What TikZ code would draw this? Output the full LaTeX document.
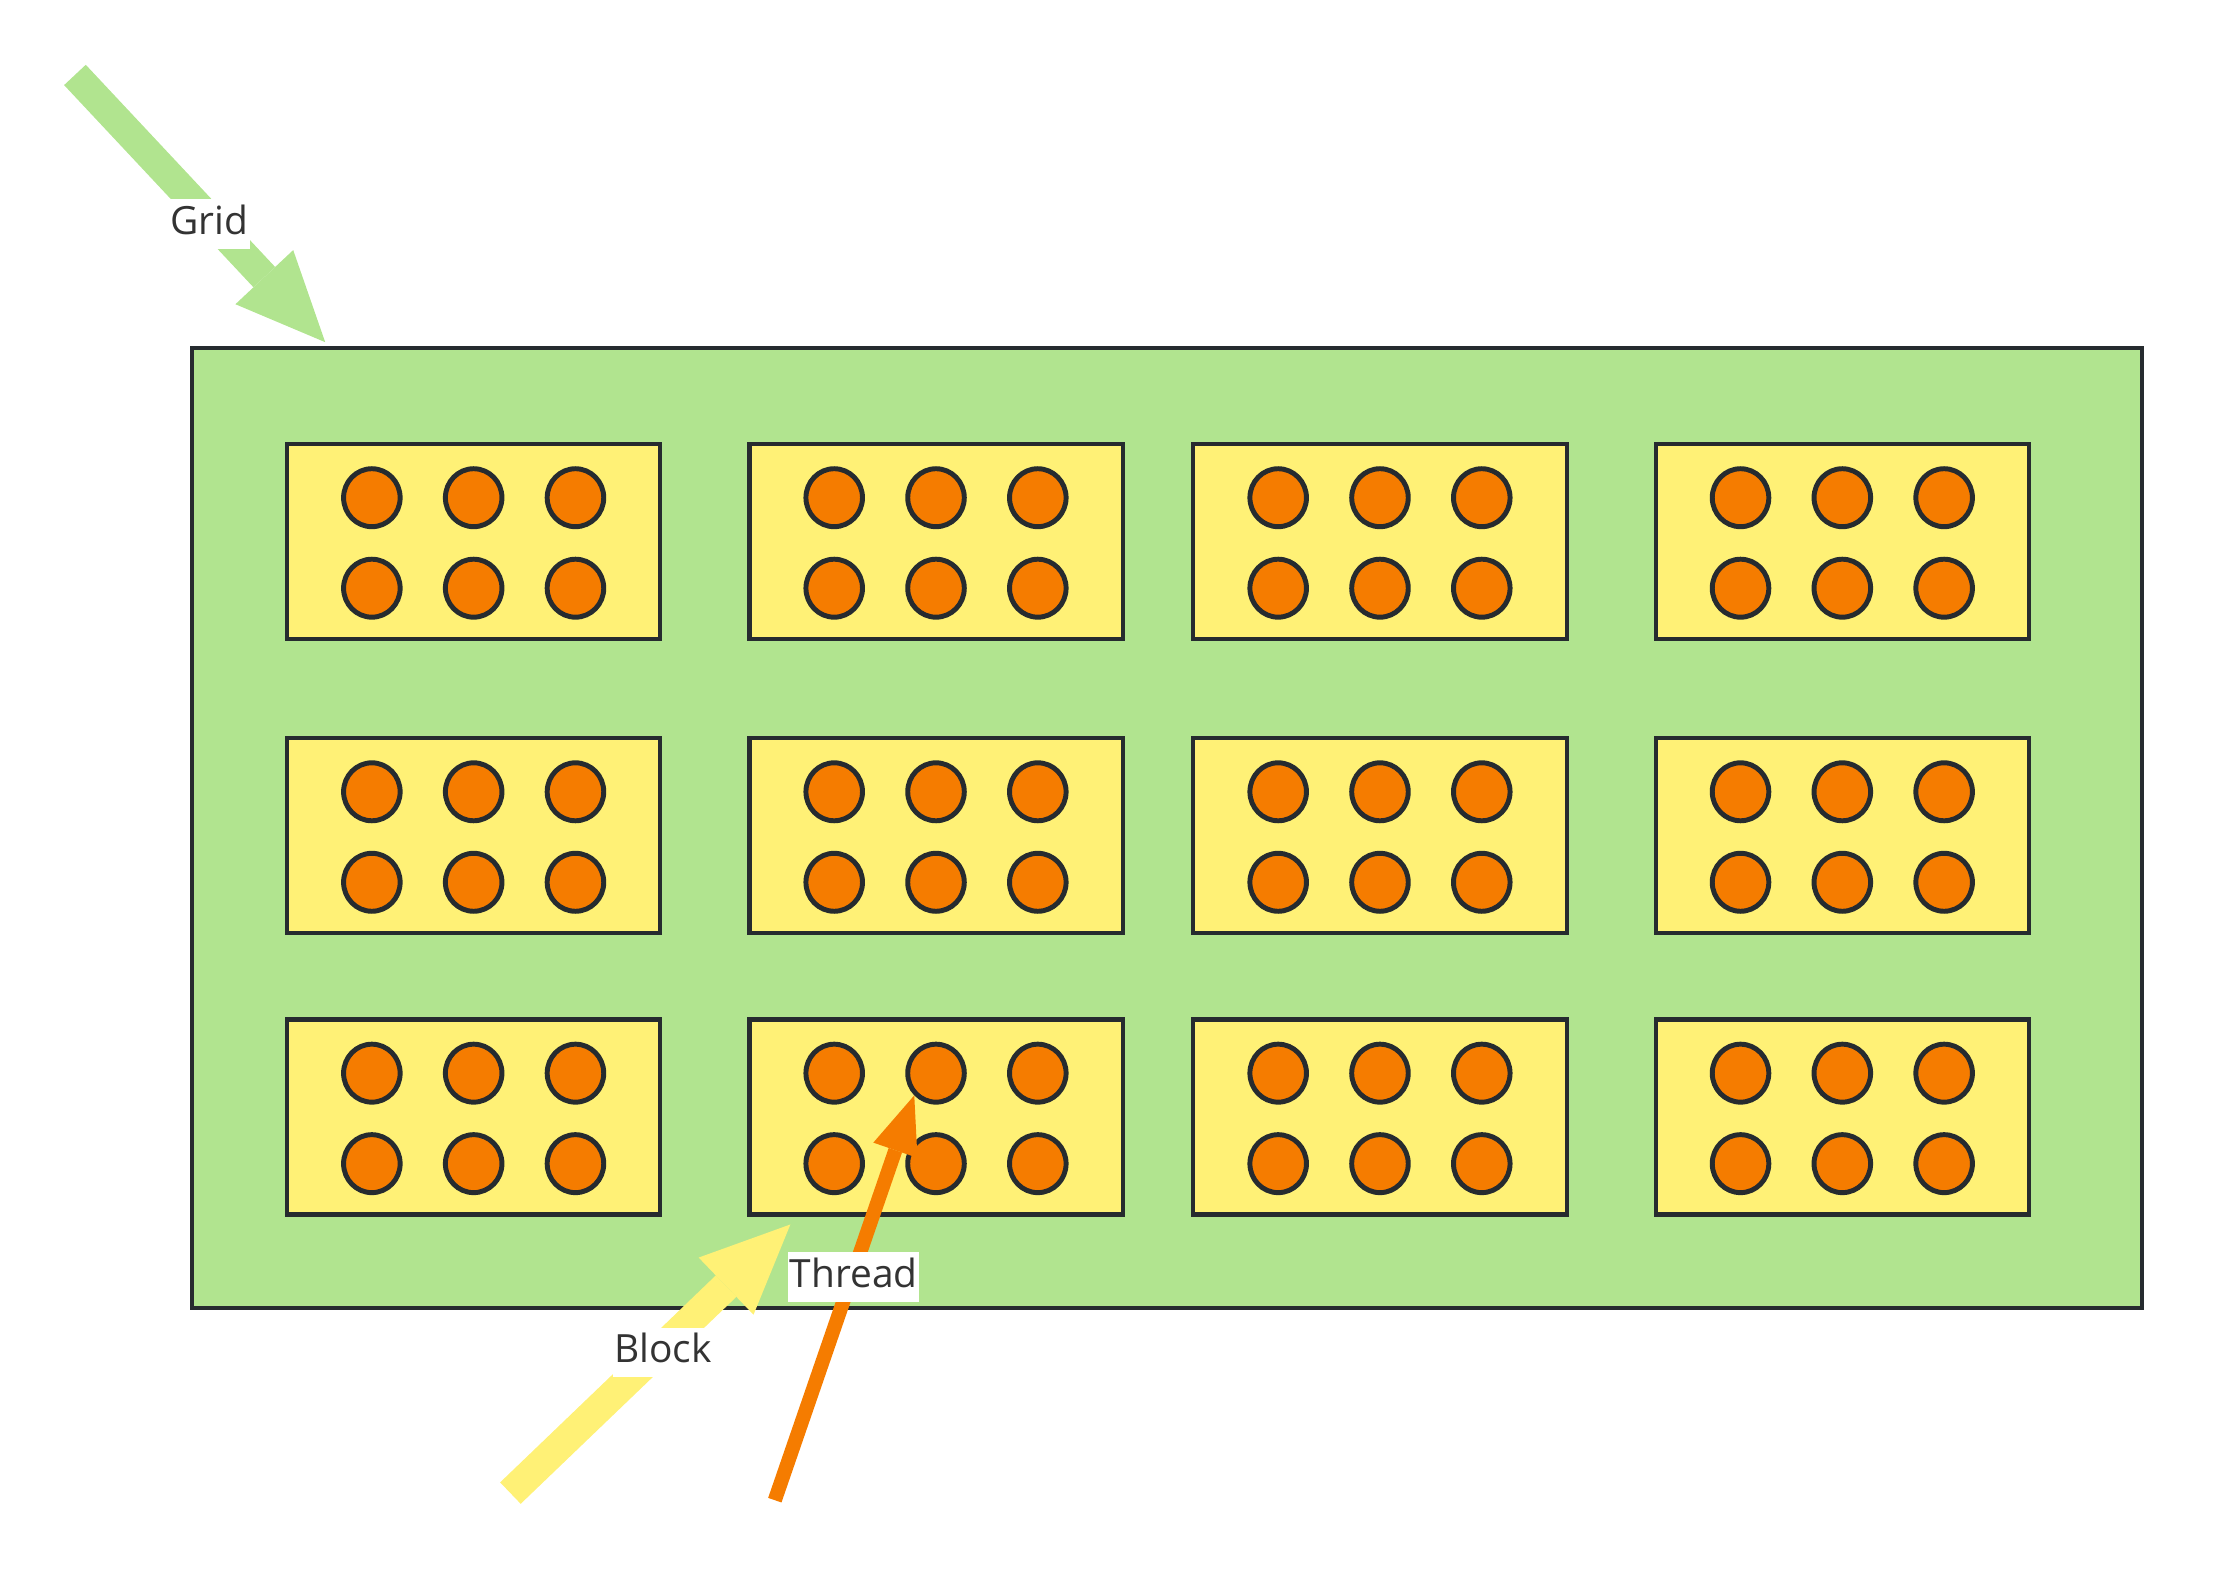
\documentclass[tikz,border=0pt]{standalone}
\usepackage{fontspec}
\setmainfont{Open Sans}
\usetikzlibrary{arrows.meta,shapes.geometric}
\definecolor{gridgreen}{HTML}{B1E48F}
\definecolor{blockyellow}{HTML}{FFF176}
\definecolor{threadorange}{HTML}{F57C00}
\definecolor{edge}{HTML}{262B2F}
\definecolor{textgrey}{HTML}{333333}
\tikzstyle{gridbox}=[rectangle, draw=edge, fill=gridgreen, line width=3pt, inner sep=0pt]
\tikzstyle{block}=[rectangle, draw=edge, fill=blockyellow, line width=3pt, inner sep=0pt,
    minimum width=264pt, minimum height=138pt]
\tikzstyle{thread}=[ellipse, draw=edge, fill=threadorange, line width=3.5pt, inner sep=0pt,
    minimum width=40pt, minimum height=41pt]
\tikzstyle{pointer}=[line width=21pt, -{Triangle[length=63pt,width=56pt,line width=0pt]}]
\tikzstyle{tag}=[fill=white, text=textgrey, inner xsep=1pt, inner ysep=3pt, yshift=-4pt,
    text height=22pt, text depth=7pt, font=\fontsize{27.5}{32}\selectfont]
\newcommand{\blocknode}{\node[block]}
\newcommand{\threadnode}{\node[thread]}

\begin{document}
\begin{tikzpicture}[x=1pt, y=-1pt]
\useasboundingbox (0,0) rectangle (1568,1114);
\node[gridbox, minimum width=1379pt, minimum height=679pt] (grid) at (825.5,585.5) {};
% blocks, each with 2 x 3 threads
\foreach \c/\x in {1/335,2/662,3/976,4/1303}
  \foreach \r/\y in {1/383,2/591,3/790} {
    \blocknode (b\r\c) at (\x,\y) {};
    \foreach \i/\dx in {1/-72,2/0,3/72} {
      \threadnode (t\r\c-1\i) at (\x+\dx,\y-31) {};
      \threadnode (t\r\c-2\i) at (\x+\dx,\y+33) {};
    }
  }
\coordinate (gridfrom)   at (53,53);
\coordinate (gridtip)    at (230,242);
\coordinate (blockfrom)  at (361,1056);
\coordinate (blocktip)   at (559,866);
\coordinate (threadfrom) at (548,1061);
\draw[pointer, gridgreen] (gridfrom) -- node[tag, pos=.537] {Grid} (gridtip);
\draw[pointer, blockyellow] (blockfrom) -- node[tag, pos=.545] {Block} (blocktip);
\draw[pointer, threadorange, line width=10pt,
      -{Triangle[length=41pt,width=33pt,line width=0pt]}]
  (threadfrom) -- node[tag, pos=.565] {Thread} (t32-12.south west);
\end{tikzpicture}
\end{document}
